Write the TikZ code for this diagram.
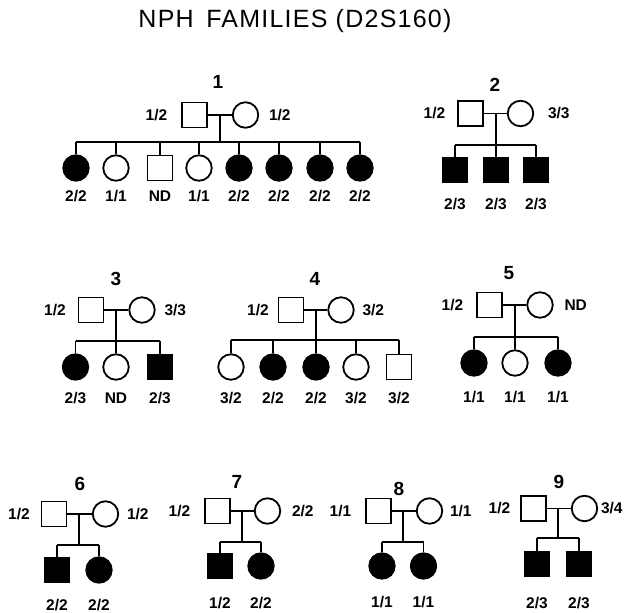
\documentclass[tikz,border=0pt]{standalone}
\usepackage{fontspec}
\setmainfont{Liberation Sans}
\newfontfamily\titlefamily[LetterSpace=5]{Liberation Sans}
\newcommand\titlefont{\titlefamily\fontsize{25}{29}\selectfont}
\newcommand\genofont{\bfseries\fontsize{15.5}{17}\selectfont}
\newcommand\famfont{\bfseries\fontsize{19}{21}\selectfont}
\usepackage{tikz}
\usetikzlibrary{positioning}

\begin{document}
\begin{tikzpicture}[x=1pt, y=-1pt, line width=1.8pt,
  male/.style={draw, rectangle, minimum size=25pt, inner sep=0pt},
  fem/.style={draw, circle, minimum size=25.5pt, inner sep=0pt},
  maleA/.style={male, fill=black}, femA/.style={fem, fill=black},
  geno/.style={font=\genofont, inner sep=0pt},
  num/.style={font=\famfont, inner sep=0pt}]
  \useasboundingbox (0,0) rectangle (624,613);
  \node[font=\titlefont, inner sep=0pt] (title) at (295,21) {NPH\hspace{0.5em}FAMILIES (D2S160)};

  % family 1
  \node[num] (n1) at (218,82) {1};
  \node[male] (f1) at (194.5,115) {};
  \node[fem] (m1) at (245.5,115) {};
  \node[geno, left=13pt of f1] (f1g) {1/2};
  \node[geno, right=9pt of m1] (m1g) {1/2};
  \coordinate (s1) at (220,142);
  \foreach \x/\s/\g [count=\i] in {76/femA/{2/2}, 116/fem/{1/1}, 160/male/ND,
      199/fem/{1/1}, 239/femA/{2/2}, 279/femA/{2/2}, 320/femA/{2/2}, 360/femA/{2/2}} {
    \node[\s] (c1-\i) at (\x,168) {};
    \node[geno] (c1g-\i) at (\x,196) {\g};
    \draw (c1-\i) -- (c1-\i |- s1);
  }
  \draw (f1) -- (m1) (s1 |- f1) -- (s1) (c1-1 |- s1) -- (c1-8 |- s1);

  % family 2
  \node[num] (n2) at (495,85) {2};
  \node[male] (f2) at (470.5,113.5) {};
  \node[fem] (m2) at (520.5,113.5) {};
  \node[geno, left=11pt of f2] (f2g) {1/2};
  \node[geno, right=13pt of m2] (m2g) {3/3};
  \coordinate (s2) at (496,145);
  \foreach \x/\s/\g [count=\i] in {455/maleA/{2/3}, 496/maleA/{2/3}, 536/maleA/{2/3}} {
    \node[\s] (c2-\i) at (\x,170) {};
    \node[geno] (c2g-\i) at (\x,204) {\g};
    \draw (c2-\i) -- (c2-\i |- s2);
  }
  \draw (f2) -- (m2) (s2 |- f2) -- (s2) (c2-1 |- s2) -- (c2-3 |- s2);

  % family 3
  \node[num] (n3) at (116,279) {3};
  \node[male] (f3) at (91,310) {};
  \node[fem] (m3) at (142,310) {};
  \node[geno, left=11pt of f3] (f3g) {1/2};
  \node[geno, right=8pt of m3] (m3g) {3/3};
  \coordinate (s3) at (116,341);
  \foreach \x/\s/\g [count=\i] in {75.5/femA/{2/3}, 116/fem/ND, 160/maleA/{2/3}} {
    \node[\s] (c3-\i) at (\x,367) {};
    \node[geno] (c3g-\i) at (\x,398) {\g};
    \draw (c3-\i) -- (c3-\i |- s3);
  }
  \draw (f3) -- (m3) (s3 |- f3) -- (s3) (c3-1 |- s3) -- (c3-3 |- s3);

  % family 4
  \node[num] (n4) at (315,279) {4};
  \node[male] (f4) at (291,310) {};
  \node[fem] (m4) at (341,310) {};
  \node[geno, left=8pt of f4] (f4g) {1/2};
  \node[geno, right=7pt of m4] (m4g) {3/2};
  \coordinate (s4) at (316,340);
  \foreach \x/\s/\g [count=\i] in {231/fem/{3/2}, 273/femA/{2/2}, 316/femA/{2/2},
      356/fem/{3/2}, 399/male/{3/2}} {
    \node[\s] (c4-\i) at (\x,367) {};
    \node[geno] (c4g-\i) at (\x,398) {\g};
    \draw (c4-\i) -- (c4-\i |- s4);
  }
  \draw (f4) -- (m4) (s4 |- f4) -- (s4) (c4-1 |- s4) -- (c4-5 |- s4);

  % family 5
  \node[num] (n5) at (509,273.5) {5};
  \node[male] (f5) at (489.5,305) {};
  \node[fem] (m5) at (540,305) {};
  \node[geno, left=12pt of f5] (f5g) {1/2};
  \node[geno, right=10pt of m5] (m5g) {ND};
  \coordinate (s5) at (515,337);
  \foreach \x/\s/\g [count=\i] in {474/femA/{1/1}, 515/fem/{1/1}, 558/femA/{1/1}} {
    \node[\s] (c5-\i) at (\x,363) {};
    \node[geno] (c5g-\i) at (\x,397) {\g};
    \draw (c5-\i) -- (c5-\i |- s5);
  }
  \draw (f5) -- (m5) (s5 |- f5) -- (s5) (c5-1 |- s5) -- (c5-3 |- s5);

  % family 6
  \node[num] (n6) at (80,484) {6};
  \node[male] (f6) at (54,514) {};
  \node[fem] (m6) at (105.5,514) {};
  \node[geno, left=10pt of f6] (f6g) {1/2};
  \node[geno, right=7pt of m6] (m6g) {1/2};
  \coordinate (s6) at (79,545);
  \foreach \x/\s/\g [count=\i] in {57/maleA/{2/2}, 99/femA/{2/2}} {
    \node[\s] (c6-\i) at (\x,570) {};
    \node[geno] (c6g-\i) at (\x,605) {\g};
    \draw (c6-\i) -- (c6-\i |- s6);
  }
  \draw (f6) -- (m6) (s6 |- f6) -- (s6) (c6-1 |- s6) -- (c6-2 |- s6);

  % family 7
  \node[num] (n7) at (237,482) {7};
  \node[male] (f7) at (217.5,511) {};
  \node[fem] (m7) at (267.5,511) {};
  \node[geno, left=13pt of f7] (f7g) {1/2};
  \node[geno, right=10pt of m7] (m7g) {2/2};
  \coordinate (s7) at (242,542);
  \foreach \x/\s/\g [count=\i] in {220/maleA/{1/2}, 261/femA/{2/2}} {
    \node[\s] (c7-\i) at (\x,566) {};
    \node[geno] (c7g-\i) at (\x,603) {\g};
    \draw (c7-\i) -- (c7-\i |- s7);
  }
  \draw (f7) -- (m7) (s7 |- f7) -- (s7) (c7-1 |- s7) -- (c7-2 |- s7);

  % family 8
  \node[num] (n8) at (399,489) {8};
  \node[male] (f8) at (378.5,511) {};
  \node[fem] (m8) at (429.5,511) {};
  \node[geno, left=13pt of f8] (f8g) {1/1};
  \node[geno, right=6pt of m8] (m8g) {1/1};
  \coordinate (s8) at (403,542);
  \foreach \x/\s/\g [count=\i] in {382/femA/{1/1}, 423.5/femA/{1/1}} {
    \node[\s] (c8-\i) at (\x,566) {};
    \node[geno] (c8g-\i) at (\x,602) {\g};
    \draw (c8-\i) -- (c8-\i |- s8);
  }
  \draw (f8) -- (m8) (s8 |- f8) -- (s8) (c8-1 |- s8) -- (c8-2 |- s8);

  % family 9
  \node[num] (n9) at (559,482) {9};
  \node[male] (f9) at (533.5,508.5) {};
  \node[fem] (m9) at (584.5,508.5) {};
  \node[geno, left=9pt of f9] (f9g) {1/2};
  \node[geno, right=2pt of m9] (m9g) {3/4};
  \coordinate (s9) at (558,538);
  \foreach \x/\s/\g [count=\i] in {537/maleA/{2/3}, 579/maleA/{2/3}} {
    \node[\s] (c9-\i) at (\x,564) {};
    \node[geno] (c9g-\i) at (\x,603) {\g};
    \draw (c9-\i) -- (c9-\i |- s9);
  }
  \draw (f9) -- (m9) (s9 |- f9) -- (s9) (c9-1 |- s9) -- (c9-2 |- s9);
\end{tikzpicture}
\end{document}
